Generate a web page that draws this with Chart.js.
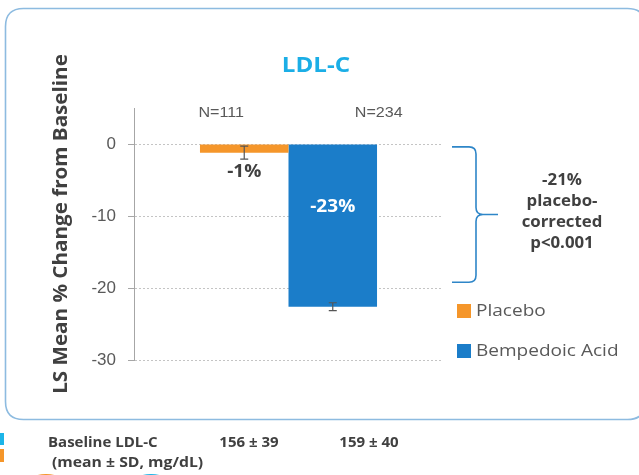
<!DOCTYPE html>
<html>
<head>
<meta charset="utf-8">
<script src="https://cdn.jsdelivr.net/npm/chart.js@4.4.1/dist/chart.umd.min.js"></script>
<style>
  html, body { margin: 0; padding: 0; background: #ffffff; }
  canvas { display: block; }
</style>
</head>
<body>
<canvas id="ldl" width="639" height="475"></canvas>
<script>
// LS mean % change in LDL-C from baseline, by treatment group
const groups = ['Placebo', 'Bempedoic Acid'];
const lsMeanChange = [-1.2, -22.6];
const errorHalfWidth = [0.9, 0.55];
const sampleSizes = ['N=111', 'N=234'];
const baselineLDL = ['156 ± 39', '159 ± 40'];
const yTicks = [0, -10, -20, -30];
const pValueText = 'p<0.001';

const barColors = ['#F5962A', '#1B7DC9'];
const darkText = '#404040';
const greyText = '#595959';

function drawText(c, s, x, y, font, color, align, sx) {
  c.save();
  c.font = font;
  c.fillStyle = color;
  c.textAlign = align || 'center';
  c.textBaseline = 'middle';
  c.translate(x, y);
  c.scale(sx || 1, 1);
  c.fillText(s, 0, 0);
  c.restore();
}

function roundRectPath(c, x, y, w, h, r) {
  c.beginPath();
  c.moveTo(x + r, y);
  c.lineTo(x + w - r, y);
  c.quadraticCurveTo(x + w, y, x + w, y + r);
  c.lineTo(x + w, y + h - r);
  c.quadraticCurveTo(x + w, y + h, x + w - r, y + h);
  c.lineTo(x + r, y + h);
  c.quadraticCurveTo(x, y + h, x, y + h - r);
  c.lineTo(x, y + r);
  c.quadraticCurveTo(x, y, x + r, y);
  c.closePath();
}

const annotations = {
  id: 'annotations',
  beforeDraw(chart) {
    const c = chart.ctx;
    // panel frame
    c.save();
    c.strokeStyle = '#8DBBE0';
    c.lineWidth = 1.6;
    roundRectPath(c, 5.5, 8.5, 640, 411, 18);
    c.stroke();
    // slide edge accents
    c.fillStyle = '#1CB5E8';
    c.fillRect(0, 433, 4, 12);
    c.fillStyle = '#F5962A';
    c.fillRect(0, 449, 4, 13);
    c.beginPath();
    c.ellipse(46, 481, 16, 7, 0, 0, Math.PI * 2);
    c.fill();
    c.fillStyle = '#1CB5E8';
    c.beginPath();
    c.ellipse(151, 481, 16, 7, 0, 0, Math.PI * 2);
    c.fill();
    c.restore();
  },
  afterDatasetsDraw(chart) {
    const c = chart.ctx;
    const y = chart.scales.y;
    chart.data.datasets.forEach((ds, i) => {
      const bar = chart.getDatasetMeta(i).data[0];
      const v = ds.data[0];
      const e = errorHalfWidth[i];
      // error bar
      const yTop = y.getPixelForValue(v + e);
      const yBot = y.getPixelForValue(v - e);
      c.save();
      c.strokeStyle = '#555555';
      c.lineWidth = 1.2;
      c.beginPath();
      c.moveTo(bar.x, yTop); c.lineTo(bar.x, yBot);
      c.moveTo(bar.x - 4, yTop); c.lineTo(bar.x + 4, yTop);
      c.moveTo(bar.x - 4, yBot); c.lineTo(bar.x + 4, yBot);
      c.stroke();
      c.restore();
      // value label
      const label = Math.round(v) + '%';
      if (Math.abs(v) < 5) {
        drawText(c, label, bar.x, bar.y + 20, 'bold 17px "Open Sans"', darkText, 'center', 1.12);
      } else {
        drawText(c, label, bar.x, bar.base + 63, 'bold 17px "Open Sans"', '#ffffff', 'center', 1.12);
      }
    });
  },
  afterDraw(chart) {
    const c = chart.ctx;
    const area = chart.chartArea;
    const y = chart.scales.y;

    // chart title
    drawText(c, 'LDL-C', 316, 66, 'bold 21px "Open Sans"', '#1BAEE6', 'center', 1.15);

    // y-axis title
    c.save();
    c.translate(61, 224);
    c.rotate(-Math.PI / 2);
    drawText(c, 'LS Mean % Change from Baseline', 0, 0, 'bold 20px "Open Sans"', darkText, 'center', 1.03);
    c.restore();

    // group sizes above the bars
    const nOffsets = [-23, 46];
    chart.data.datasets.forEach((ds, i) => {
      const bar = chart.getDatasetMeta(i).data[0];
      drawText(c, sampleSizes[i], bar.x + nOffsets[i], area.top + 5, '14px "Liberation Sans"', greyText, 'center', 1.15);
    });

    // brace spanning the placebo-corrected difference
    const bTop = y.getPixelForValue(-0.4);
    const bBot = y.getPixelForValue(-19.2);
    const bMid = (bTop + bBot) / 2;
    const x0 = 452, xv = 476, xt = 498, r = 7;
    c.save();
    c.strokeStyle = '#2E86C8';
    c.lineWidth = 1.6;
    c.beginPath();
    c.moveTo(x0, bTop);
    c.lineTo(xv - r, bTop);
    c.quadraticCurveTo(xv, bTop, xv, bTop + r);
    c.lineTo(xv, bMid - r);
    c.quadraticCurveTo(xv, bMid, xv + r, bMid);
    c.lineTo(xt, bMid);
    c.moveTo(xv + r, bMid);
    c.quadraticCurveTo(xv, bMid, xv, bMid + r);
    c.lineTo(xv, bBot - r);
    c.quadraticCurveTo(xv, bBot, xv - r, bBot);
    c.lineTo(x0, bBot);
    c.stroke();
    c.restore();

    const diff = Math.round(lsMeanChange[1] - lsMeanChange[0]);
    const braceLines = [diff + '%', 'placebo-', 'corrected', pValueText];
    braceLines.forEach((s, k) => {
      drawText(c, s, 562, 180 + k * 21, 'bold 16px "Open Sans"', darkText, 'center', 1.05);
    });

    // legend
    chart.data.datasets.forEach((ds, i) => {
      const ly = 311 + i * 40;
      c.fillStyle = ds.backgroundColor;
      c.fillRect(457, ly - 7, 14, 14);
      drawText(c, ds.label, 476, ly, '17px "Open Sans"', greyText, 'left', 1.12);
    });

    // baseline LDL-C row
    drawText(c, 'Baseline LDL-C', 48, 443, 'bold 15px "Open Sans"', darkText, 'left', 1.0);
    drawText(c, '(mean ± SD, mg/dL)', 52, 463, 'bold 15px "Open Sans"', darkText, 'left', 1.05);
    const baseX = [249, 369];
    baselineLDL.forEach((s, i) => {
      drawText(c, s, baseX[i], 443, 'bold 15px "Open Sans"', darkText, 'center', 1.0);
    });
  }
};

new Chart(document.getElementById('ldl'), {
  type: 'bar',
  data: {
    labels: ['LDL-C'],
    datasets: groups.map((g, i) => ({
      label: g,
      data: [lsMeanChange[i]],
      backgroundColor: barColors[i],
      borderWidth: 0,
      categoryPercentage: 0.573,
      barPercentage: 1
    }))
  },
  options: {
    responsive: false,
    animation: false,
    devicePixelRatio: 1,
    layout: { padding: { left: 0, right: 196, top: 108, bottom: 115 } },
    plugins: {
      legend: { display: false },
      title: { display: false },
      tooltip: { enabled: false }
    },
    scales: {
      x: { display: false },
      y: {
        min: -30,
        max: 5,
        afterBuildTicks: s => { s.ticks = yTicks.map(v => ({ value: v })); },
        afterFit: s => { s.width = 134; },
        ticks: { color: greyText, font: { family: 'Liberation Sans', size: 17 }, padding: 12 },
        grid: { color: '#c4c4c4', tickLength: 6, tickColor: '#a6a6a6', tickWidth: 1 },
        border: { color: '#a6a6a6', dash: [2, 2] }
      }
    }
  },
  plugins: [annotations]
});
</script>
</body>
</html>
